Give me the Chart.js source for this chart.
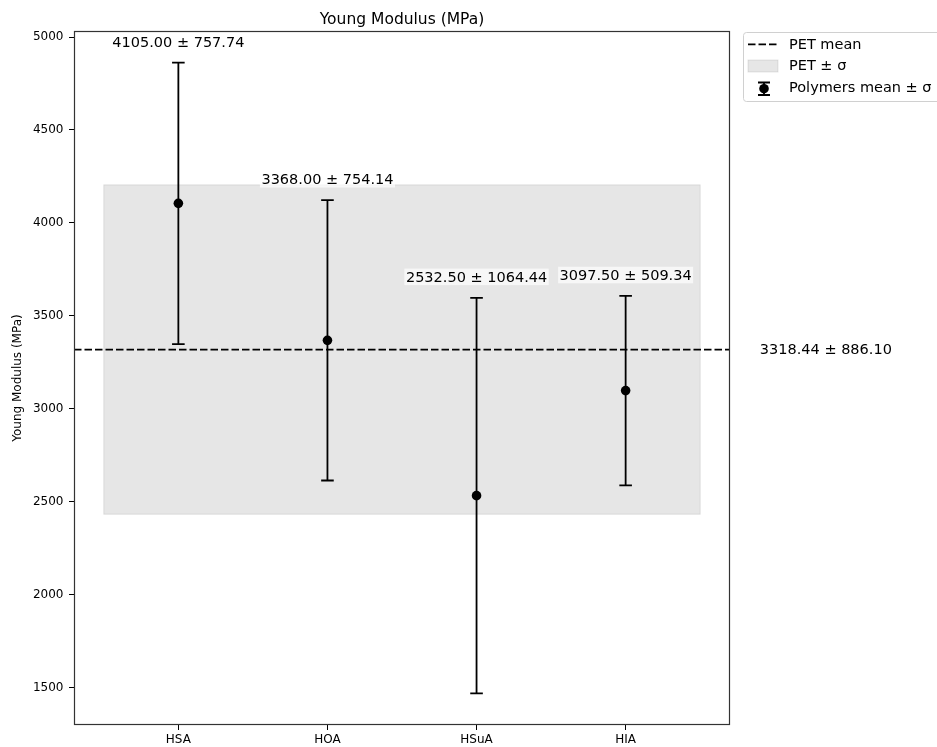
<!DOCTYPE html>
<html>
<head>
<meta charset="utf-8">
<script src="https://cdn.jsdelivr.net/npm/chart.js@4.4.0/dist/chart.umd.min.js"></script>
<style>
  html, body { margin: 0; padding: 0; background: #ffffff; }
  #wrap { width: 937px; height: 747px; }
</style>
</head>
<body>
<div id="wrap"><canvas id="c" width="937" height="747"></canvas></div>
<script>
// Young modulus per polymer (MPa): mean and standard deviation
const categories = ['HSA', 'HOA', 'HSuA', 'HIA'];
const means = [4105.00, 3368.00, 2532.50, 3097.50];
const stds = [757.74, 754.14, 1064.44, 509.34];

// PET reference value
const petMean = 3318.44;
const petStd = 886.10;

const yTicks = [1500, 2000, 2500, 3000, 3500, 4000, 4500, 5000];

const FONT = "'DejaVu Sans', 'Liberation Sans', sans-serif";
Chart.defaults.font.family = FONT;
Chart.defaults.color = '#000';

// axis limits with a 5% margin around everything plotted
const lows = means.map((m, i) => m - stds[i]).concat([petMean - petStd]);
const highs = means.map((m, i) => m + stds[i]).concat([petMean + petStd]);
const yLo = Math.min(...lows), yHi = Math.max(...highs);
const yPad = (yHi - yLo) * 0.05;
const bandLeft = -0.5, bandRight = categories.length - 0.5;
const xPad = (bandRight - bandLeft) * 0.05;

const fmt = (m, s) => `${m.toFixed(2)} \u00b1 ${s.toFixed(2)}`;

const BAND = 'rgba(128,128,128,0.2)';
const DASH = [7.5, 3];
const CAP = 6.3;

function drawErrorBar(ctx, px, hi, lo, cap) {
  ctx.beginPath();
  ctx.moveTo(px, hi); ctx.lineTo(px, lo);
  ctx.moveTo(px - cap, hi); ctx.lineTo(px + cap, hi);
  ctx.moveTo(px - cap, lo); ctx.lineTo(px + cap, lo);
  ctx.stroke();
}

const overlay = {
  id: 'overlay',
  beforeDatasetsDraw(chart) {
    const { ctx, scales: { x, y } } = chart;
    ctx.save();
    // PET ± σ band
    const x0 = x.getPixelForValue(bandLeft), x1 = x.getPixelForValue(bandRight);
    const yTop = y.getPixelForValue(petMean + petStd), yBot = y.getPixelForValue(petMean - petStd);
    ctx.fillStyle = BAND;
    ctx.fillRect(x0, yTop, x1 - x0, yBot - yTop);
    ctx.strokeStyle = BAND;
    ctx.lineWidth = 1;
    ctx.strokeRect(x0, yTop, x1 - x0, yBot - yTop);
    // error bars
    ctx.strokeStyle = '#000';
    ctx.lineWidth = 1.8;
    means.forEach((m, i) => {
      const px = x.getPixelForValue(i);
      drawErrorBar(ctx, px, y.getPixelForValue(m + stds[i]), y.getPixelForValue(m - stds[i]), CAP);
    });
    ctx.restore();
  },
  afterDatasetsDraw(chart) {
    const { ctx, scales: { x, y } } = chart;
    ctx.save();
    ctx.font = `14.5px ${FONT}`;
    ctx.textAlign = 'center';
    ctx.textBaseline = 'alphabetic';
    means.forEach((m, i) => {
      const px = x.getPixelForValue(i);
      const base = y.getPixelForValue(m + stds[i]) - 15.9;
      const txt = fmt(m, stds[i]);
      const w = ctx.measureText(txt).width;
      ctx.fillStyle = 'rgba(255,255,255,0.7)';
      ctx.fillRect(px - w / 2 - 1.5, base - 13.3, w + 3, 16.5);
      ctx.fillStyle = '#000';
      ctx.fillText(txt, px, base);
    });
    ctx.restore();
  },
  afterDraw(chart) {
    const { ctx, chartArea: a, scales: { x, y } } = chart;
    ctx.save();
    // axes frame
    ctx.strokeStyle = '#333';
    ctx.lineWidth = 1.2;
    ctx.strokeRect(a.left + 0.5, a.top + 0.5, a.right - a.left - 1, a.bottom - a.top - 1);

    // title
    ctx.fillStyle = '#000';
    ctx.font = `15.5px ${FONT}`;
    ctx.textAlign = 'center';
    ctx.textBaseline = 'alphabetic';
    ctx.fillText('Young Modulus (MPa)', (a.left + a.right) / 2, 23.5);

    // PET value beside the mean line
    ctx.font = `14.5px ${FONT}`;
    ctx.textAlign = 'left';
    ctx.fillText(fmt(petMean, petStd), x.getPixelForValue(categories.length - 0.1), y.getPixelForValue(petMean) + 4.5);

    // legend
    const lx = 743.5, ly = 32.5, lw = 215, lh = 69;
    ctx.beginPath();
    ctx.roundRect(lx, ly, lw, lh, 3);
    ctx.fillStyle = 'rgba(255,255,255,0.8)';
    ctx.fill();
    ctx.strokeStyle = '#d0d0d0';
    ctx.lineWidth = 1;
    ctx.stroke();

    // PET mean handle
    ctx.strokeStyle = '#000';
    ctx.lineWidth = 1.8;
    ctx.setLineDash(DASH);
    ctx.beginPath();
    ctx.moveTo(748, 44.3); ctx.lineTo(778, 44.3);
    ctx.stroke();
    ctx.setLineDash([]);

    // PET ± σ handle
    ctx.fillStyle = BAND;
    ctx.fillRect(748, 60, 30, 12);
    ctx.strokeStyle = BAND;
    ctx.lineWidth = 1;
    ctx.strokeRect(748, 60, 30, 12);

    // polymers handle
    ctx.strokeStyle = '#000';
    ctx.lineWidth = 1.8;
    drawErrorBar(ctx, 764, 82.5, 95, 6);
    ctx.fillStyle = '#000';
    ctx.beginPath();
    ctx.arc(764, 88.7, 4.8, 0, Math.PI * 2);
    ctx.fill();

    ctx.fillStyle = '#000';
    ctx.font = `14.5px ${FONT}`;
    ctx.textAlign = 'left';
    ctx.fillText('PET mean', 789, 48.5);
    ctx.fillText('PET \u00b1 \u03c3', 789, 70.2);
    ctx.fillText('Polymers mean \u00b1 \u03c3', 789, 92);
    ctx.restore();
  }
};

new Chart(document.getElementById('c'), {
  type: 'scatter',
  data: {
    datasets: [
      {
        label: 'Polymers mean \u00b1 \u03c3',
        data: means.map((m, i) => ({ x: i, y: m })),
        pointRadius: 4.8,
        pointHoverRadius: 4.8,
        pointBackgroundColor: '#000',
        pointBorderColor: '#000',
        pointBorderWidth: 0,
        showLine: false
      },
      {
        label: 'PET mean',
        data: [{ x: bandLeft - xPad, y: petMean }, { x: bandRight + xPad, y: petMean }],
        showLine: true,
        borderColor: '#000',
        borderWidth: 1.8,
        borderDash: DASH,
        pointRadius: 0,
        fill: false
      }
    ]
  },
  options: {
    responsive: false,
    animation: false,
    devicePixelRatio: 1,
    layout: { padding: { top: 31, right: 207, left: 0, bottom: 0 } },
    plugins: {
      legend: { display: false },
      tooltip: { enabled: false },
      title: { display: false }
    },
    scales: {
      x: {
        type: 'linear',
        min: bandLeft - xPad,
        max: bandRight + xPad,
        afterBuildTicks: (s) => { s.ticks = categories.map((c, i) => ({ value: i })); },
        afterFit: (s) => { s.height = 22; },
        ticks: {
          includeBounds: false,
          autoSkip: false,
          maxRotation: 0,
          padding: 3,
          color: '#000',
          font: { size: 12 },
          callback: (v) => categories[v]
        },
        grid: { display: true, drawOnChartArea: false, drawTicks: true, tickLength: 5, tickColor: '#000' },
        border: { display: false }
      },
      y: {
        type: 'linear',
        min: yLo - yPad,
        max: yHi + yPad,
        afterBuildTicks: (s) => { s.ticks = yTicks.map(v => ({ value: v })); },
        afterFit: (s) => { s.width = 74; },
        ticks: {
          includeBounds: false,
          padding: 5.5,
          color: '#000',
          font: { size: 12 },
          callback: (v) => String(v)
        },
        title: {
          display: true,
          text: 'Young Modulus (MPa)',
          color: '#000',
          font: { size: 12 },
          padding: { top: 11, bottom: 0 }
        },
        grid: { display: true, drawOnChartArea: false, drawTicks: true, tickLength: 5, tickColor: '#000' },
        border: { display: false }
      }
    }
  },
  plugins: [overlay]
});
</script>
</body>
</html>
